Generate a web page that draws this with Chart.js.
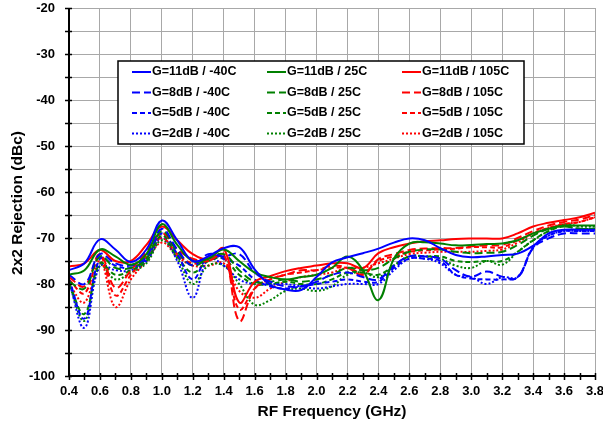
<!DOCTYPE html>
<html>
<head>
<meta charset="utf-8">
<script src="https://cdn.jsdelivr.net/npm/chart.js@4.4.0/dist/chart.umd.min.js"></script>
<style>
  html, body { margin: 0; padding: 0; background: #fff; }
</style>
</head>
<body>
<canvas id="chart" width="603" height="427"></canvas>
<script>
// frequency points (GHz)
const FREQ = [0.4, 0.5, 0.6, 0.7, 0.8, 0.9,
  1.0, 1.1, 1.2, 1.3, 1.4, 1.5, 1.6, 1.7, 1.8, 1.9,
  2.0, 2.1, 2.2, 2.3, 2.4, 2.5, 2.6, 2.7, 2.8, 2.9,
  3.0, 3.1, 3.2, 3.3, 3.4, 3.5, 3.6, 3.7, 3.8];

// 2x2 rejection (dBc) per gain / temperature
const g11_m40 = [-77, -75.5, -70.3, -72.5, -75.2, -72.5,
  -66.2, -70.5, -75, -74, -72.2, -72, -76.8, -80.2, -81.2, -81.3,
  -78.5, -75.3, -74.2, -73.3, -72.3, -71, -70.1, -70.5, -72.2, -73.7,
  -74.2, -74, -73.7, -73.4, -71.7, -69, -68.2, -68.2, -68.2];
const g11_25 = [-78, -77, -72.5, -74, -75.8, -73.5,
  -67, -71.5, -75, -74.5, -72.5, -75, -77.5, -78.5, -79, -78.5,
  -78, -76.5, -74, -77, -83.5, -74.5, -71.2, -70.9, -71.2, -71.6,
  -71.5, -71.3, -71.2, -70.5, -69, -68, -67.3, -67.3, -67.3];
const g11_105 = [-76.2, -75.5, -72.6, -75, -75, -71.5,
  -67.5, -70.5, -73.5, -74.5, -72.3, -84, -79.5, -78.3, -77.2, -76.5,
  -76, -75.5, -75.5, -76.5, -73.3, -72, -71.2, -70.7, -70.5, -70.2,
  -70.1, -70.1, -70.1, -69, -67.5, -66.7, -66.1, -65.5, -64.5];

const g8_m40 = [-78, -80, -73.5, -75.5, -76, -74,
  -68, -72.5, -76, -73.5, -74, -73.5, -77.5, -79.5, -80.5, -80.5,
  -79.5, -78, -77.5, -78.5, -79, -76, -74, -74, -74.5, -77,
  -78.4, -77.3, -78.4, -78.6, -72.2, -70.1, -69, -69, -69];
const g8_25 = [-79.5, -81, -74, -76.5, -76.5, -74.5,
  -68.5, -73, -76, -74.5, -73.5, -77, -79.5, -79.5, -79, -79.5,
  -79, -78, -76.5, -77, -76.5, -74.5, -73, -72.5, -72.5, -73,
  -73.3, -73.2, -73, -71.5, -69.5, -68, -67.5, -68, -68];
const g8_105 = [-78.5, -80.5, -73.5, -80.8, -77, -73,
  -69, -72.5, -74.5, -75, -73.5, -88, -81, -79, -78, -77,
  -77, -76, -76.5, -78, -74.6, -73.5, -72.6, -72.3, -72.2, -72.2,
  -71.8, -71.6, -71.5, -70, -68.5, -67.3, -66.5, -66, -65];

const g5_m40 = [-79, -87.5, -74.5, -76, -76.5, -74.5,
  -69, -73.5, -79, -74, -74.5, -76, -79, -80.5, -81, -80.5,
  -80, -79.5, -79, -79.5, -79.5, -76.5, -74.5, -74.5, -75, -78,
  -78.8, -79, -79, -78.5, -72, -69.5, -68.5, -68.5, -68.5];
const g5_25 = [-80, -86.5, -75.5, -78, -77, -75,
  -69.5, -74, -77.5, -75, -74.5, -78, -80, -80, -79.5, -80,
  -80, -79, -77.5, -77.5, -78, -76, -74, -74, -74, -75,
  -75.2, -75, -75, -73, -70.5, -68.5, -67.5, -68, -68];
const g5_105 = [-79, -82, -74, -82.5, -78, -74,
  -70, -73.5, -75.5, -75, -74, -85.5, -81, -79, -78, -77.5,
  -77, -76.5, -76.5, -77.5, -75, -74, -73, -72.7, -72.5, -72.3,
  -72, -72, -72, -70.5, -69, -67.8, -67, -66.5, -65.5];

const g2_m40 = [-79.5, -89.5, -76, -77, -77, -75,
  -70, -75, -83, -74.5, -76, -79, -80, -80, -80, -80.5,
  -81, -80.5, -80, -80, -80, -77, -74.5, -74.5, -75.5, -78,
  -78.5, -80, -78.5, -78.5, -72, -69.5, -68.5, -68.5, -68.5];
const g2_25 = [-80, -88, -76, -79, -77.5, -75.5,
  -70.5, -74.5, -80, -76, -76, -80, -84.5, -83.5, -81.5, -81,
  -81.5, -80.5, -78, -77.5, -78.5, -76, -74, -74, -74.5, -76,
  -76.5, -75, -75.8, -73, -70.5, -68.5, -67, -67.5, -67.5];
const g2_105 = [-80, -84, -75, -85, -79, -75,
  -71, -74, -76, -76, -75.5, -81.5, -83, -81, -79.5, -78.5,
  -78, -77.5, -76.5, -76.5, -75.5, -74.5, -73.5, -73.2, -73, -73,
  -73, -72.8, -72.5, -71, -69, -67.8, -67, -66.5, -65.5];

const X_MIN = 0.4, X_MAX = 3.8, X_STEP = 0.2, X_MINOR = 0.1;
const Y_MIN = -100, Y_MAX = -20, Y_STEP = 5, Y_LABEL_STEP = 10;

const FONT = 'Arial, "Liberation Sans", sans-serif';
const BLUE = "#0000ff", GREEN = "#008000", RED = "#ff0000";
const SOLID = [], LONG_DASH = [8, 4], DASH = [5, 3], DOT = [2, 2];

function series(label, values, color, dash) {
  return {
    label: label,
    data: FREQ.map((f, i) => ({ x: f, y: values[i] })),
    borderColor: color,
    borderDash: dash,
    borderWidth: 2,
    pointRadius: 0,
    fill: false,
    tension: 0.4
  };
}

const datasets = [
  series("G=11dB / -40C", g11_m40, BLUE, SOLID),
  series("G=11dB / 25C", g11_25, GREEN, SOLID),
  series("G=11dB / 105C", g11_105, RED, SOLID),
  series("G=8dB / -40C", g8_m40, BLUE, LONG_DASH),
  series("G=8dB / 25C", g8_25, GREEN, LONG_DASH),
  series("G=8dB / 105C", g8_105, RED, LONG_DASH),
  series("G=5dB / -40C", g5_m40, BLUE, DASH),
  series("G=5dB / 25C", g5_25, GREEN, DASH),
  series("G=5dB / 105C", g5_105, RED, DASH),
  series("G=2dB / -40C", g2_m40, BLUE, DOT),
  series("G=2dB / 25C", g2_25, GREEN, DOT),
  series("G=2dB / 105C", g2_105, RED, DOT)
];

// axis lines with crossing ticks, y title and the boxed legend
const decorations = {
  id: "decorations",
  afterDraw(chart) {
    const { ctx, chartArea: a, scales: { x, y } } = chart;
    ctx.save();

    ctx.strokeStyle = "#000";
    ctx.lineWidth = 2;
    ctx.beginPath();
    ctx.moveTo(a.left, a.top);
    ctx.lineTo(a.left, a.bottom);
    ctx.lineTo(a.right, a.bottom);
    ctx.stroke();

    ctx.lineWidth = 1.5;
    ctx.beginPath();
    for (let v = Y_MIN; v <= Y_MAX; v += Y_STEP) {
      const py = Math.round(y.getPixelForValue(v)) + 0.5;
      ctx.moveTo(a.left - 4, py);
      ctx.lineTo(a.left + 3, py);
    }
    const n = Math.round((X_MAX - X_MIN) / X_MINOR);
    for (let k = 0; k <= n; k++) {
      const px = Math.round(x.getPixelForValue(X_MIN + k * X_MINOR)) + 0.5;
      ctx.moveTo(px, a.bottom - 3);
      ctx.lineTo(px, a.bottom + 4);
    }
    ctx.stroke();

    // y axis title
    ctx.fillStyle = "#000";
    ctx.font = "bold 15.5px " + FONT;
    ctx.textAlign = "center";
    ctx.textBaseline = "middle";
    ctx.save();
    ctx.translate(17.5, 203);
    ctx.rotate(-Math.PI / 2);
    ctx.fillText("2x2 Rejection (dBc)", 0, 0);
    ctx.restore();

    // legend
    const box = { left: 118, top: 61, right: 524, bottom: 144 };
    ctx.fillStyle = "#fff";
    ctx.fillRect(box.left, box.top, box.right - box.left, box.bottom - box.top);
    ctx.strokeStyle = "#000";
    ctx.lineWidth = 1.5;
    ctx.strokeRect(box.left, box.top, box.right - box.left, box.bottom - box.top);

    ctx.font = "bold 12.5px " + FONT;
    ctx.textAlign = "left";
    chart.data.datasets.forEach((ds, i) => {
      const col = i % 3, row = Math.floor(i / 3);
      const lx = 132 + col * 135;
      const cy = 72 + row * 20.5;
      ctx.strokeStyle = ds.borderColor;
      ctx.lineWidth = 2;
      ctx.setLineDash(ds.borderDash);
      ctx.beginPath();
      ctx.moveTo(lx, cy);
      ctx.lineTo(lx + 19, cy);
      ctx.stroke();
      ctx.setLineDash([]);
      ctx.fillStyle = "#000";
      ctx.fillText(ds.label, lx + 20, cy);
    });

    ctx.restore();
  }
};

new Chart(document.getElementById("chart"), {
  type: "line",
  data: { datasets: datasets },
  options: {
    responsive: false,
    animation: false,
    events: [],
    layout: { padding: { top: 8, right: 8, left: 0, bottom: 0 } },
    plugins: { legend: { display: false }, tooltip: { enabled: false } },
    scales: {
      x: {
        type: "linear",
        min: X_MIN,
        max: X_MAX,
        afterFit: s => { s.height = 51; s.paddingLeft = 0; s.paddingRight = 0; },
        grid: { color: "#a8a8a8", lineWidth: 1, drawTicks: false },
        border: { display: false },
        ticks: {
          stepSize: X_STEP,
          autoSkip: false,
          maxRotation: 0,
          padding: 8,
          color: "#000",
          font: { family: FONT, size: 13, weight: "bold" },
          callback: v => v.toFixed(1)
        },
        title: {
          display: true,
          text: "RF Frequency (GHz)",
          color: "#000",
          font: { family: FONT, size: 15.5, weight: "bold" },
          padding: { top: 0, bottom: 6 }
        }
      },
      y: {
        min: Y_MIN,
        max: Y_MAX,
        afterFit: s => { s.width = 69; s.paddingTop = 0; s.paddingBottom = 0; },
        grid: { color: "#a8a8a8", lineWidth: 1, drawTicks: false },
        border: { display: false },
        ticks: {
          stepSize: Y_STEP,
          autoSkip: false,
          padding: 14,
          color: "#000",
          font: { family: FONT, size: 13, weight: "bold" },
          callback: v => (Math.round(v) % Y_LABEL_STEP === 0 ? v : "")
        }
      }
    }
  },
  plugins: [decorations]
});
</script>
</body>
</html>
